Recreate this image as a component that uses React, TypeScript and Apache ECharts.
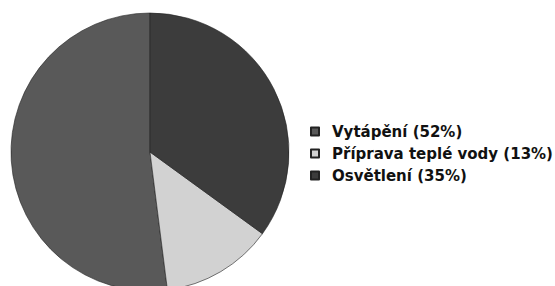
import React, { useEffect, useRef } from "react";
import * as echarts from "echarts";

const categories = ["Vytápění", "Příprava teplé vody", "Osvětlení"];
const values = [52, 13, 35];
const colors = ["#595959", "#d2d2d2", "#3c3c3c"];

export default function App() {
  const ref = useRef<HTMLDivElement>(null);
  useEffect(() => {
    document.body.style.margin = "0";
    const chart = echarts.init(ref.current!, undefined, { renderer: "svg" });
    const data = categories.map((name, i) => ({
      name,
      value: values[i],
      itemStyle: { color: colors[i] },
    }));
    chart.setOption({
      animation: false,
      backgroundColor: "#ffffff",
      legend: {
        orient: "vertical",
        left: 305,
        top: 118,
        itemWidth: 8,
        itemHeight: 8,
        itemGap: 5,
        icon: "rect",
        textStyle: {
          fontFamily: "DejaVu Sans",
          fontSize: 15,
          fontWeight: "bold",
          color: "#111",
          padding: [0, 0, 0, 8],
          lineHeight: 17,
        },
        formatter: (name: string) => {
          const i = categories.indexOf(name);
          return `${name} (${values[i]}%)`;
        },
        data: categories,
      },
      series: [
        {
          type: "pie",
          center: [150, 152],
          radius: 139,
          startAngle: 90,
          clockwise: false,
          label: { show: false },
          labelLine: { show: false },
          itemStyle: { borderColor: "#222", borderWidth: 0.6 },
          emphasis: { disabled: true },
          data,
        },
      ],
    });
    return () => chart.dispose();
  }, []);
  return <div ref={ref} style={{ width: 555, height: 286 }} />;
}
